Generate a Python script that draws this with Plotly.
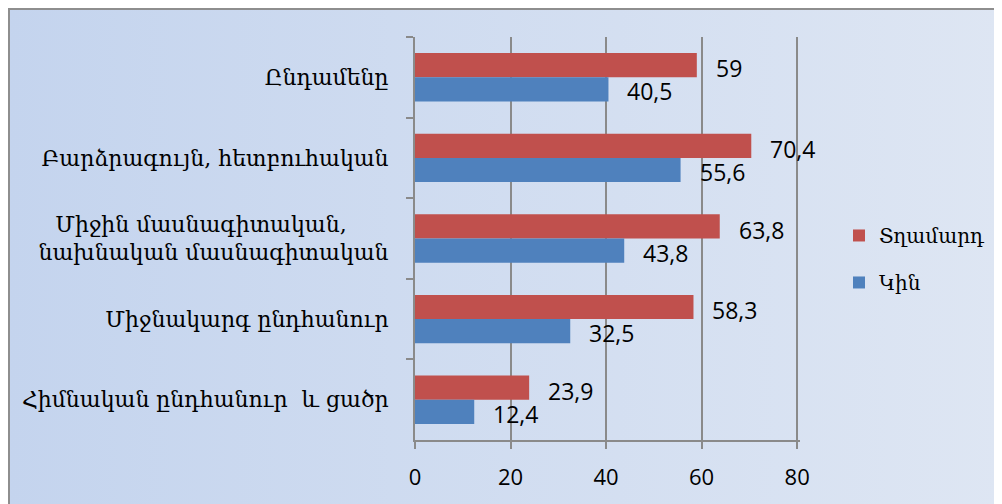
import plotly.graph_objects as go
import urllib.parse

categories = [
    "Ընդամենը",
    "Բարձրագույն, հետբուհական",
    "Միջին մասնագիտական,\u00a0\u00a0\u00a0\u00a0\u00a0\u00a0<br>նախնական մասնագիտական",
    "Միջնակարգ ընդհանուր",
    "Հիմնական ընդհանուր  և ցածր",
]
men = [59, 70.4, 63.8, 58.3, 23.9]
women = [40.5, 55.6, 43.8, 32.5, 12.4]
series_names = ["Տղամարդ", "Կին"]
x_ticks = [0, 20, 40, 60, 80]

RED = "#c0504d"
BLUE = "#4f81bd"
GRID = "#8a8a8a"
SERIF = "DejaVu Serif"
NUM = "Open Sans"

# The page body has an 8px margin; the figure fills the rest of the window.
W, H = 994, 496
ML, MR, MT, MB = 407, 202, 29, 64

def fmt(v):
    return (f"{v:g}").replace(".", ",")

fig = go.Figure()
fig.add_trace(go.Bar(y=categories, x=men, name=series_names[0], orientation="h",
                     marker=dict(color=RED, line=dict(width=0)), legendgroup="m"))
fig.add_trace(go.Bar(y=categories, x=women, name=series_names[1], orientation="h",
                     marker=dict(color=BLUE, line=dict(width=0)), legendgroup="w"))

annotations = []
for c, v in zip(categories, men):
    annotations.append(dict(x=v, y=c, xref="x", yref="y", text=fmt(v), showarrow=False,
                            xanchor="left", yanchor="middle", xshift=17, yshift=9,
                            font=dict(family=NUM, size=23, color="#000")))
for c, v in zip(categories, women):
    annotations.append(dict(x=v, y=c, xref="x", yref="y", text=fmt(v), showarrow=False,
                            xanchor="left", yanchor="middle", xshift=17, yshift=-14,
                            font=dict(family=NUM, size=23, color="#000")))

# Decorative background: horizontal gradient with a grey border on top and left
bw, bh = W, H
svg = (f'<svg xmlns="http://www.w3.org/2000/svg" width="{bw}" height="{bh}" viewBox="0 0 {bw} {bh}" preserveAspectRatio="none">'
       '<defs><linearGradient id="g" x1="0" y1="0" x2="1" y2="0">'
       '<stop offset="0" stop-color="#c4d4ee"/><stop offset="1" stop-color="#dee6f3"/>'
       '</linearGradient></defs>'
       f'<rect x="0" y="0" width="{bw}" height="{bh}" fill="url(#g)"/>'
       f'<rect x="0" y="0" width="{bw}" height="2" fill="#8e8e8e"/>'
       f'<rect x="0" y="0" width="2" height="{bh}" fill="#8e8e8e"/>'
       '</svg>')
src = "data:image/svg+xml;charset=utf-8," + urllib.parse.quote(svg)
pw, ph = W - ML - MR, H - MT - MB
img = dict(source=src, xref="paper", yref="paper",
           x=-ML / pw, y=1 + MT / ph,
           sizex=bw / pw, sizey=bh / ph, sizing="stretch",
           xanchor="left", yanchor="top", layer="below")

fig.update_layout(
    width=W, height=H,
    margin=dict(l=ML, r=MR, t=MT, b=MB, pad=0, autoexpand=False),
    paper_bgcolor="#c9d7ef", plot_bgcolor="white",
    barmode="group", bargap=0.4, bargroupgap=0,
    images=[img],
    annotations=annotations,
    showlegend=True,
    legend=dict(xref="container", yref="container", x=0.836, y=0.494,
                xanchor="left", yanchor="middle", traceorder="grouped",
                tracegroupgap=18, bgcolor="rgba(0,0,0,0)",
                font=dict(family=SERIF, size=20, color="#000")),
    xaxis=dict(range=[0, 80.6], tickvals=x_ticks, showgrid=True, gridcolor=GRID, gridwidth=2,
               zeroline=False, showline=True, linecolor=GRID, linewidth=2,
               ticks="outside", ticklen=7, tickwidth=2, tickcolor=GRID,
               ticklabelstandoff=10, automargin=False,
               tickfont=dict(family=NUM, size=22, color="#000")),
    yaxis=dict(categoryorder="array", categoryarray=categories, autorange="reversed",
               showgrid=False, zeroline=False, showline=True, linecolor=GRID, linewidth=2,
               ticks="outside", ticklen=7, tickwidth=2, tickcolor=GRID, tickson="boundaries",
               ticklabelstandoff=20, automargin=False,
               tickfont=dict(family=SERIF, size=22, color="#000")),
)

fig.write_html("out.html")
